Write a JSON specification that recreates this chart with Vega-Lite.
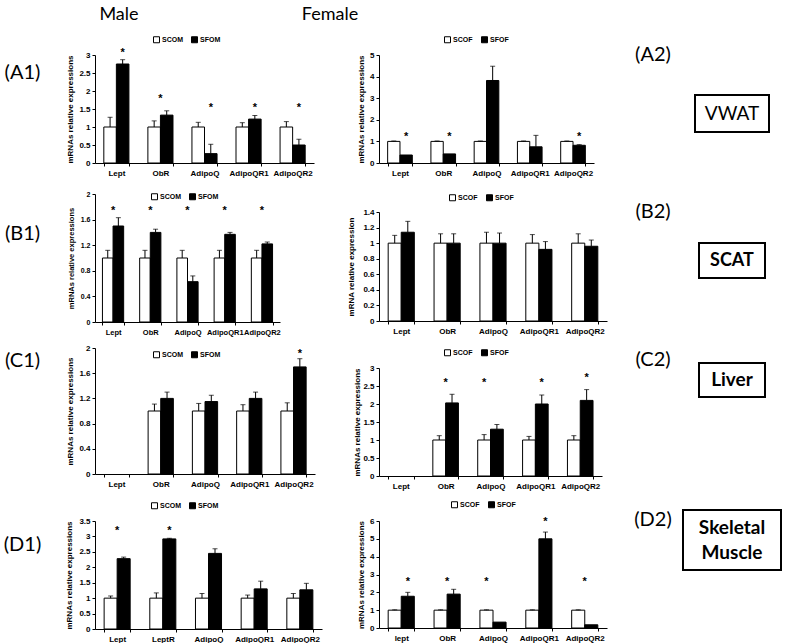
{
  "$schema": "https://vega.github.io/schema/vega-lite/v6.json",
  "padding": 0,
  "background": "white",
  "spacing": 0,
  "resolve": {"scale": {"fill": "independent", "xOffset": "independent"}, "legend": {"fill": "independent"}},
  "vconcat": [
    {
      "hconcat": [
        {"width": 238, "height": 30, "data": {"values": [{"label": "Male"}]}, "mark": {"type": "text", "font": "Lato", "fontSize": 18}, "encoding": {"text": {"field": "label"}}},
        {"width": 184, "height": 30, "data": {"values": [{"label": "Female"}]}, "mark": {"type": "text", "font": "Lato", "fontSize": 18}, "encoding": {"text": {"field": "label"}}}
      ],
      "spacing": 0
    },
    {
      "spacing": 20,
      "resolve": {"scale": {"fill": "independent", "xOffset": "independent"}, "legend": {"fill": "independent"}},
      "hconcat": [
        {
          "vconcat": [
            {"width": 45, "height": 86, "data": {"values": [{"label": "(A1)"}]}, "mark": {"type": "text", "font": "Lato", "fontSize": 20}, "encoding": {"text": {"field": "label"}}},
            {"width": 45, "height": 236, "data": {"values": [{"label": "(B1)"}]}, "mark": {"type": "text", "font": "Lato", "fontSize": 20}, "encoding": {"text": {"field": "label"}}},
            {"width": 45, "height": 18, "data": {"values": [{"label": "(C1)"}]}, "mark": {"type": "text", "font": "Lato", "fontSize": 20}, "encoding": {"text": {"field": "label"}}},
            {"width": 45, "height": 160, "data": {"values": [{"label": ""}]}, "mark": {"type": "text"}, "encoding": {"text": {"field": "label"}}},
            {"width": 45, "height": 30, "data": {"values": [{"label": "(D1)"}]}, "mark": {"type": "text", "font": "Lato", "fontSize": 20}, "encoding": {"text": {"field": "label"}}}
          ],
          "spacing": 0,
          "bounds": "flush"
        },
        {
          "vconcat": [
            {"width": 232, "height": 25, "data": {"values": [{"label": ""}]}, "mark": {"type": "text"}, "encoding": {"text": {"field": "label"}}},
            {
              "width": 219, "height": 108,
              "data": {"values": [
                {"gene": "Lept", "series": "SCOM", "value": 1, "err": 1.27},
                {"gene": "Lept", "series": "SFOM", "value": 2.75, "err": 2.87, "star": 3.13, "starPos": "SFOM"},
                {"gene": "ObR", "series": "SCOM", "value": 1, "err": 1.17},
                {"gene": "ObR", "series": "SFOM", "value": 1.33, "err": 1.45, "star": 1.85, "starPos": "mid"},
                {"gene": "AdipoQ", "series": "SCOM", "value": 1, "err": 1.13},
                {"gene": "AdipoQ", "series": "SFOM", "value": 0.26, "err": 0.52, "star": 1.62, "starPos": "SFOM"},
                {"gene": "AdipoQR1", "series": "SCOM", "value": 1, "err": 1.12},
                {"gene": "AdipoQR1", "series": "SFOM", "value": 1.22, "err": 1.32, "star": 1.62, "starPos": "SFOM"},
                {"gene": "AdipoQR2", "series": "SCOM", "value": 1, "err": 1.15},
                {"gene": "AdipoQR2", "series": "SFOM", "value": 0.5, "err": 0.66, "star": 1.62, "starPos": "SFOM"}
              ]},
              "encoding": {"x": {"field": "gene", "type": "nominal", "sort": null, "scale": {"domain": ["Lept", "ObR", "AdipoQ", "AdipoQR1", "AdipoQR2"], "paddingInner": 0.43, "paddingOuter": 0.2}, "axis": {"title": null, "labelAngle": 0, "tickBand": "extent", "labelPadding": 3}}},
              "layer": [
                {"mark": {"type": "bar", "stroke": "black", "strokeWidth": 1},
                 "encoding": {
                   "xOffset": {"field": "series", "type": "nominal", "scale": {"domain": ["SCOM", "SFOM"]}},
                   "y": {"field": "value", "type": "quantitative", "title": "mRNAs relative expressions", "scale": {"domain": [0, 3], "nice": false}, "axis": {"values": [0, 0.5, 1, 1.5, 2, 2.5, 3], "format": "~g", "titlePadding": 4}},
                   "fill": {"field": "series", "type": "nominal", "scale": {"domain": ["SCOM", "SFOM"], "range": ["white", "black"]}, "legend": {"title": null, "orient": "none", "direction": "horizontal", "legendX": 58, "legendY": -19}}}},
                {"transform": [{"filter": "datum.err != null"}], "mark": {"type": "rule", "color": "black", "strokeWidth": 1},
                 "encoding": {"xOffset": {"field": "series", "type": "nominal"}, "y": {"field": "value", "type": "quantitative", "title": "mRNAs relative expressions", "scale": {"domain": [0, 3], "nice": false}, "axis": {"values": [0, 0.5, 1, 1.5, 2, 2.5, 3], "format": "~g", "titlePadding": 4}}, "y2": {"field": "err"}}},
                {"transform": [{"filter": "datum.err != null"}], "mark": {"type": "tick", "color": "black", "thickness": 1, "size": 5},
                 "encoding": {"xOffset": {"field": "series", "type": "nominal"}, "y": {"field": "err", "type": "quantitative", "title": "mRNAs relative expressions", "scale": {"domain": [0, 3], "nice": false}, "axis": {"values": [0, 0.5, 1, 1.5, 2, 2.5, 3], "format": "~g", "titlePadding": 4}}}},
                {"transform": [{"filter": "datum.starPos == 'mid'"}], "mark": {"type": "text", "text": "*", "fontSize": 11, "fontWeight": "bold", "dy": 3},
                 "encoding": {"y": {"field": "star", "type": "quantitative", "title": "mRNAs relative expressions", "scale": {"domain": [0, 3], "nice": false}, "axis": {"values": [0, 0.5, 1, 1.5, 2, 2.5, 3], "format": "~g", "titlePadding": 4}}}},
                {"transform": [{"filter": "datum.star != null && datum.starPos != 'mid'"}], "mark": {"type": "text", "text": "*", "fontSize": 11, "fontWeight": "bold", "dy": 3},
                 "encoding": {"xOffset": {"field": "starPos", "type": "nominal"}, "y": {"field": "star", "type": "quantitative", "title": "mRNAs relative expressions", "scale": {"domain": [0, 3], "nice": false}, "axis": {"values": [0, 0.5, 1, 1.5, 2, 2.5, 3], "format": "~g", "titlePadding": 4}}}}
              ]
            },
            {"width": 232, "height": 31, "data": {"values": [{"label": ""}]}, "mark": {"type": "text"}, "encoding": {"text": {"field": "label"}}},
            {
              "width": 185, "height": 128,
              "data": {"values": [
                {"gene": "Lept", "series": "SCOM", "value": 1, "err": 1.12},
                {"gene": "Lept", "series": "SFOM", "value": 1.5, "err": 1.63, "star": 1.78, "starPos": "mid"},
                {"gene": "ObR", "series": "SCOM", "value": 1, "err": 1.12},
                {"gene": "ObR", "series": "SFOM", "value": 1.4, "err": 1.45, "star": 1.78, "starPos": "mid"},
                {"gene": "AdipoQ", "series": "SCOM", "value": 1, "err": 1.12},
                {"gene": "AdipoQ", "series": "SFOM", "value": 0.63, "err": 0.72, "star": 1.78, "starPos": "mid"},
                {"gene": "AdipoQR1", "series": "SCOM", "value": 1, "err": 1.12},
                {"gene": "AdipoQR1", "series": "SFOM", "value": 1.37, "err": 1.4, "star": 1.78, "starPos": "mid"},
                {"gene": "AdipoQR2", "series": "SCOM", "value": 1, "err": 1.12},
                {"gene": "AdipoQR2", "series": "SFOM", "value": 1.22, "err": 1.25, "star": 1.78, "starPos": "mid"}
              ]},
              "encoding": {"x": {"field": "gene", "type": "nominal", "sort": null, "scale": {"domain": ["Lept", "ObR", "AdipoQ", "AdipoQR1", "AdipoQR2"], "paddingInner": 0.43, "paddingOuter": 0.2}, "axis": {"title": null, "labelAngle": 0, "tickBand": "extent", "labelPadding": 3, "labelFontSize": 7.5}}},
              "layer": [
                {"mark": {"type": "bar", "stroke": "black", "strokeWidth": 1},
                 "encoding": {
                   "xOffset": {"field": "series", "type": "nominal", "scale": {"domain": ["SCOM", "SFOM"]}},
                   "y": {"field": "value", "type": "quantitative", "title": "mRNAs relative expressions", "scale": {"domain": [0, 2], "nice": false}, "axis": {"values": [0, 0.4, 0.8, 1.2, 1.6, 2], "format": "~g", "titlePadding": 5, "labelFontSize": 7, "titleFontSize": 7.5}},
                   "fill": {"field": "series", "type": "nominal", "scale": {"domain": ["SCOM", "SFOM"], "range": ["white", "black"]}, "legend": {"title": null, "orient": "none", "direction": "horizontal", "legendX": 56, "legendY": -1}}}},
                {"transform": [{"filter": "datum.err != null"}], "mark": {"type": "rule", "color": "black", "strokeWidth": 1},
                 "encoding": {"xOffset": {"field": "series", "type": "nominal"}, "y": {"field": "value", "type": "quantitative", "title": "mRNAs relative expressions", "scale": {"domain": [0, 2], "nice": false}, "axis": {"values": [0, 0.4, 0.8, 1.2, 1.6, 2], "format": "~g", "titlePadding": 5, "labelFontSize": 7, "titleFontSize": 7.5}}, "y2": {"field": "err"}}},
                {"transform": [{"filter": "datum.err != null"}], "mark": {"type": "tick", "color": "black", "thickness": 1, "size": 5},
                 "encoding": {"xOffset": {"field": "series", "type": "nominal"}, "y": {"field": "err", "type": "quantitative", "title": "mRNAs relative expressions", "scale": {"domain": [0, 2], "nice": false}, "axis": {"values": [0, 0.4, 0.8, 1.2, 1.6, 2], "format": "~g", "titlePadding": 5, "labelFontSize": 7, "titleFontSize": 7.5}}}},
                {"transform": [{"filter": "datum.starPos == 'mid'"}], "mark": {"type": "text", "text": "*", "fontSize": 11, "fontWeight": "bold", "dy": 3},
                 "encoding": {"y": {"field": "star", "type": "quantitative", "title": "mRNAs relative expressions", "scale": {"domain": [0, 2], "nice": false}, "axis": {"values": [0, 0.4, 0.8, 1.2, 1.6, 2], "format": "~g", "titlePadding": 5, "labelFontSize": 7, "titleFontSize": 7.5}}}}
              ]
            },
            {"width": 232, "height": 26, "data": {"values": [{"label": ""}]}, "mark": {"type": "text"}, "encoding": {"text": {"field": "label"}}},
            {
              "width": 220, "height": 126,
              "data": {"values": [
                {"gene": "ObR", "series": "SCOM", "value": 1, "err": 1.11},
                {"gene": "ObR", "series": "SFOM", "value": 1.2, "err": 1.3},
                {"gene": "AdipoQ", "series": "SCOM", "value": 1, "err": 1.12},
                {"gene": "AdipoQ", "series": "SFOM", "value": 1.15, "err": 1.25},
                {"gene": "AdipoQR1", "series": "SCOM", "value": 1, "err": 1.1},
                {"gene": "AdipoQR1", "series": "SFOM", "value": 1.2, "err": 1.3},
                {"gene": "AdipoQR2", "series": "SCOM", "value": 1, "err": 1.13},
                {"gene": "AdipoQR2", "series": "SFOM", "value": 1.7, "err": 1.83, "star": 1.95, "starPos": "SFOM"}
              ]},
              "encoding": {"x": {"field": "gene", "type": "nominal", "sort": null, "scale": {"domain": ["Lept", "ObR", "AdipoQ", "AdipoQR1", "AdipoQR2"], "paddingInner": 0.43, "paddingOuter": 0.2}, "axis": {"title": null, "labelAngle": 0, "tickBand": "extent", "labelPadding": 3}}},
              "layer": [
                {"mark": {"type": "bar", "stroke": "black", "strokeWidth": 1},
                 "encoding": {
                   "xOffset": {"field": "series", "type": "nominal", "scale": {"domain": ["SCOM", "SFOM"]}},
                   "y": {"field": "value", "type": "quantitative", "title": "mRNAs relative expressions", "scale": {"domain": [0, 2], "nice": false}, "axis": {"values": [0, 0.4, 0.8, 1.2, 1.6, 2], "format": "~g", "titlePadding": 4}},
                   "fill": {"field": "series", "type": "nominal", "scale": {"domain": ["SCOM", "SFOM"], "range": ["white", "black"]}, "legend": {"title": null, "orient": "none", "direction": "horizontal", "legendX": 58, "legendY": 3}}}},
                {"transform": [{"filter": "datum.err != null"}], "mark": {"type": "rule", "color": "black", "strokeWidth": 1},
                 "encoding": {"xOffset": {"field": "series", "type": "nominal"}, "y": {"field": "value", "type": "quantitative", "title": "mRNAs relative expressions", "scale": {"domain": [0, 2], "nice": false}, "axis": {"values": [0, 0.4, 0.8, 1.2, 1.6, 2], "format": "~g", "titlePadding": 4}}, "y2": {"field": "err"}}},
                {"transform": [{"filter": "datum.err != null"}], "mark": {"type": "tick", "color": "black", "thickness": 1, "size": 5},
                 "encoding": {"xOffset": {"field": "series", "type": "nominal"}, "y": {"field": "err", "type": "quantitative", "title": "mRNAs relative expressions", "scale": {"domain": [0, 2], "nice": false}, "axis": {"values": [0, 0.4, 0.8, 1.2, 1.6, 2], "format": "~g", "titlePadding": 4}}}},
                {"transform": [{"filter": "datum.star != null && datum.starPos != 'mid'"}], "mark": {"type": "text", "text": "*", "fontSize": 11, "fontWeight": "bold", "dy": 3},
                 "encoding": {"xOffset": {"field": "starPos", "type": "nominal"}, "y": {"field": "star", "type": "quantitative", "title": "mRNAs relative expressions", "scale": {"domain": [0, 2], "nice": false}, "axis": {"values": [0, 0.4, 0.8, 1.2, 1.6, 2], "format": "~g", "titlePadding": 4}}}}
              ]
            },
            {"width": 232, "height": 47, "data": {"values": [{"label": ""}]}, "mark": {"type": "text"}, "encoding": {"text": {"field": "label"}}},
            {
              "width": 227, "height": 108,
              "data": {"values": [
                {"gene": "Lept", "series": "SCOM", "value": 1, "err": 1.07},
                {"gene": "Lept", "series": "SFOM", "value": 2.28, "err": 2.33, "star": 3.28, "starPos": "mid"},
                {"gene": "LeptR", "series": "SCOM", "value": 1, "err": 1.17},
                {"gene": "LeptR", "series": "SFOM", "value": 2.92, "err": 2.94, "star": 3.28, "starPos": "SFOM"},
                {"gene": "AdipoQ", "series": "SCOM", "value": 1, "err": 1.15},
                {"gene": "AdipoQ", "series": "SFOM", "value": 2.45, "err": 2.6},
                {"gene": "AdipoQR1", "series": "SCOM", "value": 1, "err": 1.1},
                {"gene": "AdipoQR1", "series": "SFOM", "value": 1.3, "err": 1.55},
                {"gene": "AdipoQR2", "series": "SCOM", "value": 1, "err": 1.15},
                {"gene": "AdipoQR2", "series": "SFOM", "value": 1.27, "err": 1.48}
              ]},
              "encoding": {"x": {"field": "gene", "type": "nominal", "sort": null, "scale": {"domain": ["Lept", "LeptR", "AdipoQ", "AdipoQR1", "AdipoQR2"], "paddingInner": 0.43, "paddingOuter": 0.2}, "axis": {"title": null, "labelAngle": 0, "tickBand": "extent", "labelPadding": 3}}},
              "layer": [
                {"mark": {"type": "bar", "stroke": "black", "strokeWidth": 1},
                 "encoding": {
                   "xOffset": {"field": "series", "type": "nominal", "scale": {"domain": ["SCOM", "SFOM"]}},
                   "y": {"field": "value", "type": "quantitative", "title": "mRNAs relative expressions", "scale": {"domain": [0, 3.5], "nice": false}, "axis": {"values": [0, 0.5, 1, 1.5, 2, 2.5, 3, 3.5], "format": "~g", "titlePadding": 5}},
                   "fill": {"field": "series", "type": "nominal", "scale": {"domain": ["SCOM", "SFOM"], "range": ["white", "black"]}, "legend": {"title": null, "orient": "none", "direction": "horizontal", "legendX": 56, "legendY": -19}}}},
                {"transform": [{"filter": "datum.err != null"}], "mark": {"type": "rule", "color": "black", "strokeWidth": 1},
                 "encoding": {"xOffset": {"field": "series", "type": "nominal"}, "y": {"field": "value", "type": "quantitative", "title": "mRNAs relative expressions", "scale": {"domain": [0, 3.5], "nice": false}, "axis": {"values": [0, 0.5, 1, 1.5, 2, 2.5, 3, 3.5], "format": "~g", "titlePadding": 5}}, "y2": {"field": "err"}}},
                {"transform": [{"filter": "datum.err != null"}], "mark": {"type": "tick", "color": "black", "thickness": 1, "size": 5},
                 "encoding": {"xOffset": {"field": "series", "type": "nominal"}, "y": {"field": "err", "type": "quantitative", "title": "mRNAs relative expressions", "scale": {"domain": [0, 3.5], "nice": false}, "axis": {"values": [0, 0.5, 1, 1.5, 2, 2.5, 3, 3.5], "format": "~g", "titlePadding": 5}}}},
                {"transform": [{"filter": "datum.starPos == 'mid'"}], "mark": {"type": "text", "text": "*", "fontSize": 11, "fontWeight": "bold", "dy": 3},
                 "encoding": {"y": {"field": "star", "type": "quantitative", "title": "mRNAs relative expressions", "scale": {"domain": [0, 3.5], "nice": false}, "axis": {"values": [0, 0.5, 1, 1.5, 2, 2.5, 3, 3.5], "format": "~g", "titlePadding": 5}}}},
                {"transform": [{"filter": "datum.star != null && datum.starPos != 'mid'"}], "mark": {"type": "text", "text": "*", "fontSize": 11, "fontWeight": "bold", "dy": 3},
                 "encoding": {"xOffset": {"field": "starPos", "type": "nominal"}, "y": {"field": "star", "type": "quantitative", "title": "mRNAs relative expressions", "scale": {"domain": [0, 3.5], "nice": false}, "axis": {"values": [0, 0.5, 1, 1.5, 2, 2.5, 3, 3.5], "format": "~g", "titlePadding": 5}}}}
              ]
            }
          ],
          "spacing": 0,
          "bounds": "flush",
          "resolve": {"scale": {"fill": "independent", "xOffset": "independent"}, "legend": {"fill": "independent"}}
        },
        {
          "vconcat": [
            {"width": 228, "height": 25, "data": {"values": [{"label": ""}]}, "mark": {"type": "text"}, "encoding": {"text": {"field": "label"}}},
            {
              "width": 215, "height": 108,
              "data": {"values": [
                {"gene": "Lept", "series": "SCOF", "value": 1, "err": 1.02},
                {"gene": "Lept", "series": "SFOF", "value": 0.37, "star": 1.32, "starPos": "SFOF"},
                {"gene": "ObR", "series": "SCOF", "value": 1, "err": 1.02},
                {"gene": "ObR", "series": "SFOF", "value": 0.42, "star": 1.32, "starPos": "SFOF"},
                {"gene": "AdipoQ", "series": "SCOF", "value": 1, "err": 1.02},
                {"gene": "AdipoQ", "series": "SFOF", "value": 3.82, "err": 4.48},
                {"gene": "AdipoQR1", "series": "SCOF", "value": 1, "err": 1.02},
                {"gene": "AdipoQR1", "series": "SFOF", "value": 0.75, "err": 1.28},
                {"gene": "AdipoQR2", "series": "SCOF", "value": 1, "err": 1.02},
                {"gene": "AdipoQR2", "series": "SFOF", "value": 0.82, "err": 0.85, "star": 1.32, "starPos": "SFOF"}
              ]},
              "encoding": {"x": {"field": "gene", "type": "nominal", "sort": null, "scale": {"domain": ["Lept", "ObR", "AdipoQ", "AdipoQR1", "AdipoQR2"], "paddingInner": 0.43, "paddingOuter": 0.2}, "axis": {"title": null, "labelAngle": 0, "tickBand": "extent", "labelPadding": 3}}},
              "layer": [
                {"mark": {"type": "bar", "stroke": "black", "strokeWidth": 1},
                 "encoding": {
                   "xOffset": {"field": "series", "type": "nominal", "scale": {"domain": ["SCOF", "SFOF"]}},
                   "y": {"field": "value", "type": "quantitative", "title": "mRNAs relative expressions", "scale": {"domain": [0, 5], "nice": false}, "axis": {"values": [0, 1, 2, 3, 4, 5], "format": "~g", "titlePadding": 4.5}},
                   "fill": {"field": "series", "type": "nominal", "scale": {"domain": ["SCOF", "SFOF"], "range": ["white", "black"]}, "legend": {"title": null, "orient": "none", "direction": "horizontal", "legendX": 65, "legendY": -19}}}},
                {"transform": [{"filter": "datum.err != null"}], "mark": {"type": "rule", "color": "black", "strokeWidth": 1},
                 "encoding": {"xOffset": {"field": "series", "type": "nominal"}, "y": {"field": "value", "type": "quantitative", "title": "mRNAs relative expressions", "scale": {"domain": [0, 5], "nice": false}, "axis": {"values": [0, 1, 2, 3, 4, 5], "format": "~g", "titlePadding": 4.5}}, "y2": {"field": "err"}}},
                {"transform": [{"filter": "datum.err != null"}], "mark": {"type": "tick", "color": "black", "thickness": 1, "size": 5},
                 "encoding": {"xOffset": {"field": "series", "type": "nominal"}, "y": {"field": "err", "type": "quantitative", "title": "mRNAs relative expressions", "scale": {"domain": [0, 5], "nice": false}, "axis": {"values": [0, 1, 2, 3, 4, 5], "format": "~g", "titlePadding": 4.5}}}},
                {"transform": [{"filter": "datum.star != null && datum.starPos != 'mid'"}], "mark": {"type": "text", "text": "*", "fontSize": 11, "fontWeight": "bold", "dy": 3},
                 "encoding": {"xOffset": {"field": "starPos", "type": "nominal"}, "y": {"field": "star", "type": "quantitative", "title": "mRNAs relative expressions", "scale": {"domain": [0, 5], "nice": false}, "axis": {"values": [0, 1, 2, 3, 4, 5], "format": "~g", "titlePadding": 4.5}}}}
              ]
            },
            {"width": 228, "height": 49, "data": {"values": [{"label": ""}]}, "mark": {"type": "text"}, "encoding": {"text": {"field": "label"}}},
            {
              "width": 228, "height": 109,
              "data": {"values": [
                {"gene": "Lept", "series": "SCOF", "value": 1, "err": 1.1},
                {"gene": "Lept", "series": "SFOF", "value": 1.14, "err": 1.28},
                {"gene": "ObR", "series": "SCOF", "value": 1, "err": 1.12},
                {"gene": "ObR", "series": "SFOF", "value": 1, "err": 1.12},
                {"gene": "AdipoQ", "series": "SCOF", "value": 1, "err": 1.14},
                {"gene": "AdipoQ", "series": "SFOF", "value": 1, "err": 1.13},
                {"gene": "AdipoQR1", "series": "SCOF", "value": 1, "err": 1.11},
                {"gene": "AdipoQR1", "series": "SFOF", "value": 0.92, "err": 1.02},
                {"gene": "AdipoQR2", "series": "SCOF", "value": 1, "err": 1.12},
                {"gene": "AdipoQR2", "series": "SFOF", "value": 0.96, "err": 1.04}
              ]},
              "encoding": {"x": {"field": "gene", "type": "nominal", "sort": null, "scale": {"domain": ["Lept", "ObR", "AdipoQ", "AdipoQR1", "AdipoQR2"], "paddingInner": 0.43, "paddingOuter": 0.2}, "axis": {"title": null, "labelAngle": 0, "tickBand": "extent", "labelPadding": 3}}},
              "layer": [
                {"mark": {"type": "bar", "stroke": "black", "strokeWidth": 1},
                 "encoding": {
                   "xOffset": {"field": "series", "type": "nominal", "scale": {"domain": ["SCOF", "SFOF"]}},
                   "y": {"field": "value", "type": "quantitative", "title": "mRNA relative expression", "scale": {"domain": [0, 1.4], "nice": false}, "axis": {"values": [0, 0.2, 0.4, 0.6, 0.8, 1, 1.2, 1.4], "format": "~g", "titlePadding": 7}},
                   "fill": {"field": "series", "type": "nominal", "scale": {"domain": ["SCOF", "SFOF"], "range": ["white", "black"]}, "legend": {"title": null, "orient": "none", "direction": "horizontal", "legendX": 70, "legendY": -18}}}},
                {"transform": [{"filter": "datum.err != null"}], "mark": {"type": "rule", "color": "black", "strokeWidth": 1},
                 "encoding": {"xOffset": {"field": "series", "type": "nominal"}, "y": {"field": "value", "type": "quantitative", "title": "mRNA relative expression", "scale": {"domain": [0, 1.4], "nice": false}, "axis": {"values": [0, 0.2, 0.4, 0.6, 0.8, 1, 1.2, 1.4], "format": "~g", "titlePadding": 7}}, "y2": {"field": "err"}}},
                {"transform": [{"filter": "datum.err != null"}], "mark": {"type": "tick", "color": "black", "thickness": 1, "size": 5},
                 "encoding": {"xOffset": {"field": "series", "type": "nominal"}, "y": {"field": "err", "type": "quantitative", "title": "mRNA relative expression", "scale": {"domain": [0, 1.4], "nice": false}, "axis": {"values": [0, 0.2, 0.4, 0.6, 0.8, 1, 1.2, 1.4], "format": "~g", "titlePadding": 7}}}}
              ]
            },
            {"width": 228, "height": 47, "data": {"values": [{"label": ""}]}, "mark": {"type": "text"}, "encoding": {"text": {"field": "label"}}},
            {
              "width": 223, "height": 108,
              "data": {"values": [
                {"gene": "ObR", "series": "SCOF", "value": 1, "err": 1.12},
                {"gene": "ObR", "series": "SFOF", "value": 2.03, "err": 2.27, "star": 2.68, "starPos": "mid"},
                {"gene": "AdipoQ", "series": "SCOF", "value": 1, "err": 1.15},
                {"gene": "AdipoQ", "series": "SFOF", "value": 1.3, "err": 1.43, "star": 2.68, "starPos": "SCOF"},
                {"gene": "AdipoQR1", "series": "SCOF", "value": 1, "err": 1.1},
                {"gene": "AdipoQR1", "series": "SFOF", "value": 2, "err": 2.25, "star": 2.68, "starPos": "SFOF"},
                {"gene": "AdipoQR2", "series": "SCOF", "value": 1, "err": 1.12},
                {"gene": "AdipoQR2", "series": "SFOF", "value": 2.1, "err": 2.4, "star": 2.8, "starPos": "SFOF"}
              ]},
              "encoding": {"x": {"field": "gene", "type": "nominal", "sort": null, "scale": {"domain": ["Lept", "ObR", "AdipoQ", "AdipoQR1", "AdipoQR2"], "paddingInner": 0.43, "paddingOuter": 0.2}, "axis": {"title": null, "labelAngle": 0, "tickBand": "extent", "labelPadding": 3}}},
              "layer": [
                {"mark": {"type": "bar", "stroke": "black", "strokeWidth": 1},
                 "encoding": {
                   "xOffset": {"field": "series", "type": "nominal", "scale": {"domain": ["SCOF", "SFOF"]}},
                   "y": {"field": "value", "type": "quantitative", "title": "mRNAs relative expressions", "scale": {"domain": [0, 3], "nice": false}, "axis": {"values": [0, 0.5, 1, 1.5, 2, 2.5, 3], "format": "~g", "titlePadding": 1}},
                   "fill": {"field": "series", "type": "nominal", "scale": {"domain": ["SCOF", "SFOF"], "range": ["white", "black"]}, "legend": {"title": null, "orient": "none", "direction": "horizontal", "legendX": 65, "legendY": -19}}}},
                {"transform": [{"filter": "datum.err != null"}], "mark": {"type": "rule", "color": "black", "strokeWidth": 1},
                 "encoding": {"xOffset": {"field": "series", "type": "nominal"}, "y": {"field": "value", "type": "quantitative", "title": "mRNAs relative expressions", "scale": {"domain": [0, 3], "nice": false}, "axis": {"values": [0, 0.5, 1, 1.5, 2, 2.5, 3], "format": "~g", "titlePadding": 1}}, "y2": {"field": "err"}}},
                {"transform": [{"filter": "datum.err != null"}], "mark": {"type": "tick", "color": "black", "thickness": 1, "size": 5},
                 "encoding": {"xOffset": {"field": "series", "type": "nominal"}, "y": {"field": "err", "type": "quantitative", "title": "mRNAs relative expressions", "scale": {"domain": [0, 3], "nice": false}, "axis": {"values": [0, 0.5, 1, 1.5, 2, 2.5, 3], "format": "~g", "titlePadding": 1}}}},
                {"transform": [{"filter": "datum.starPos == 'mid'"}], "mark": {"type": "text", "text": "*", "fontSize": 11, "fontWeight": "bold", "dy": 3},
                 "encoding": {"y": {"field": "star", "type": "quantitative", "title": "mRNAs relative expressions", "scale": {"domain": [0, 3], "nice": false}, "axis": {"values": [0, 0.5, 1, 1.5, 2, 2.5, 3], "format": "~g", "titlePadding": 1}}}},
                {"transform": [{"filter": "datum.star != null && datum.starPos != 'mid'"}], "mark": {"type": "text", "text": "*", "fontSize": 11, "fontWeight": "bold", "dy": 3},
                 "encoding": {"xOffset": {"field": "starPos", "type": "nominal"}, "y": {"field": "star", "type": "quantitative", "title": "mRNAs relative expressions", "scale": {"domain": [0, 3], "nice": false}, "axis": {"values": [0, 0.5, 1, 1.5, 2, 2.5, 3], "format": "~g", "titlePadding": 1}}}}
              ]
            },
            {"width": 228, "height": 45, "data": {"values": [{"label": ""}]}, "mark": {"type": "text"}, "encoding": {"text": {"field": "label"}}},
            {
              "width": 228, "height": 107,
              "data": {"values": [
                {"gene": "lept", "series": "SCOF", "value": 1, "err": 1.02},
                {"gene": "lept", "series": "SFOF", "value": 1.78, "err": 2.0, "star": 2.74, "starPos": "SFOF"},
                {"gene": "ObR", "series": "SCOF", "value": 1, "err": 1.02},
                {"gene": "ObR", "series": "SFOF", "value": 1.9, "err": 2.17, "star": 2.74, "starPos": "mid"},
                {"gene": "AdipoQ", "series": "SCOF", "value": 1, "err": 1.02},
                {"gene": "AdipoQ", "series": "SFOF", "value": 0.33, "star": 2.74, "starPos": "SCOF"},
                {"gene": "AdipoQR1", "series": "SCOF", "value": 1, "err": 1.02},
                {"gene": "AdipoQR1", "series": "SFOF", "value": 5.0, "err": 5.38, "star": 6.1, "starPos": "SFOF"},
                {"gene": "AdipoQR2", "series": "SCOF", "value": 1, "err": 1.02},
                {"gene": "AdipoQR2", "series": "SFOF", "value": 0.18, "star": 2.74, "starPos": "mid"}
              ]},
              "encoding": {"x": {"field": "gene", "type": "nominal", "sort": null, "scale": {"domain": ["lept", "ObR", "AdipoQ", "AdipoQR1", "AdipoQR2"], "paddingInner": 0.43, "paddingOuter": 0.2}, "axis": {"title": null, "labelAngle": 0, "tickBand": "extent", "labelPadding": 3}}},
              "layer": [
                {"mark": {"type": "bar", "stroke": "black", "strokeWidth": 1},
                 "encoding": {
                   "xOffset": {"field": "series", "type": "nominal", "scale": {"domain": ["SCOF", "SFOF"]}},
                   "y": {"field": "value", "type": "quantitative", "title": "mRNAs relative expressions", "scale": {"domain": [0, 6], "nice": false}, "axis": {"values": [0, 1, 2, 3, 4, 5, 6], "format": "~g", "titlePadding": 4.5}},
                   "fill": {"field": "series", "type": "nominal", "scale": {"domain": ["SCOF", "SFOF"], "range": ["white", "black"]}, "legend": {"title": null, "orient": "none", "direction": "horizontal", "legendX": 72, "legendY": -20}}}},
                {"transform": [{"filter": "datum.err != null"}], "mark": {"type": "rule", "color": "black", "strokeWidth": 1},
                 "encoding": {"xOffset": {"field": "series", "type": "nominal"}, "y": {"field": "value", "type": "quantitative", "title": "mRNAs relative expressions", "scale": {"domain": [0, 6], "nice": false}, "axis": {"values": [0, 1, 2, 3, 4, 5, 6], "format": "~g", "titlePadding": 4.5}}, "y2": {"field": "err"}}},
                {"transform": [{"filter": "datum.err != null"}], "mark": {"type": "tick", "color": "black", "thickness": 1, "size": 5},
                 "encoding": {"xOffset": {"field": "series", "type": "nominal"}, "y": {"field": "err", "type": "quantitative", "title": "mRNAs relative expressions", "scale": {"domain": [0, 6], "nice": false}, "axis": {"values": [0, 1, 2, 3, 4, 5, 6], "format": "~g", "titlePadding": 4.5}}}},
                {"transform": [{"filter": "datum.starPos == 'mid'"}], "mark": {"type": "text", "text": "*", "fontSize": 11, "fontWeight": "bold", "dy": 3},
                 "encoding": {"y": {"field": "star", "type": "quantitative", "title": "mRNAs relative expressions", "scale": {"domain": [0, 6], "nice": false}, "axis": {"values": [0, 1, 2, 3, 4, 5, 6], "format": "~g", "titlePadding": 4.5}}}},
                {"transform": [{"filter": "datum.star != null && datum.starPos != 'mid'"}], "mark": {"type": "text", "text": "*", "fontSize": 11, "fontWeight": "bold", "dy": 3},
                 "encoding": {"xOffset": {"field": "starPos", "type": "nominal"}, "y": {"field": "star", "type": "quantitative", "title": "mRNAs relative expressions", "scale": {"domain": [0, 6], "nice": false}, "axis": {"values": [0, 1, 2, 3, 4, 5, 6], "format": "~g", "titlePadding": 4.5}}}}
              ]
            }
          ],
          "spacing": 0,
          "bounds": "flush",
          "resolve": {"scale": {"fill": "independent", "xOffset": "independent"}, "legend": {"fill": "independent"}}
        },
        {
          "hconcat": [
            {
              "vconcat": [
                {"width": 52, "height": 50, "data": {"values": [{"label": "(A2)"}]}, "mark": {"type": "text", "font": "Lato", "fontSize": 20}, "encoding": {"text": {"field": "label"}}},
                {"width": 52, "height": 264, "data": {"values": [{"label": "(B2)"}]}, "mark": {"type": "text", "font": "Lato", "fontSize": 20}, "encoding": {"text": {"field": "label"}}},
                {"width": 52, "height": 32, "data": {"values": [{"label": "(C2)"}]}, "mark": {"type": "text", "font": "Lato", "fontSize": 20}, "encoding": {"text": {"field": "label"}}},
                {"width": 52, "height": 129, "data": {"values": [{"label": ""}]}, "mark": {"type": "text"}, "encoding": {"text": {"field": "label"}}},
                {"width": 52, "height": 30, "data": {"values": [{"label": "(D2)"}]}, "mark": {"type": "text", "font": "Lato", "fontSize": 20}, "encoding": {"text": {"field": "label"}}}
              ],
              "spacing": 0,
              "bounds": "flush"
            },
            {
              "vconcat": [
                {"width": 10, "height": 65, "data": {"values": [{"label": ""}]}, "mark": {"type": "text"}, "encoding": {"text": {"field": "label"}}},
                {"width": 74, "height": 37, "view": {"stroke": "black", "strokeWidth": 2}, "data": {"values": [{"label": "VWAT"}]}, "mark": {"type": "text", "font": "Lato", "fontSize": 19}, "encoding": {"text": {"field": "label"}}},
                {"width": 10, "height": 111, "data": {"values": [{"label": ""}]}, "mark": {"type": "text"}, "encoding": {"text": {"field": "label"}}},
                {"width": 66, "height": 35, "view": {"stroke": "black", "strokeWidth": 2}, "data": {"values": [{"label": "SCAT"}]}, "mark": {"type": "text", "font": "Lato", "fontSize": 18, "fontWeight": "bold"}, "encoding": {"text": {"field": "label"}}},
                {"width": 10, "height": 85, "data": {"values": [{"label": ""}]}, "mark": {"type": "text"}, "encoding": {"text": {"field": "label"}}},
                {"width": 66, "height": 34, "view": {"stroke": "black", "strokeWidth": 2}, "data": {"values": [{"label": "Liver"}]}, "mark": {"type": "text", "font": "Lato", "fontSize": 19, "fontWeight": "bold"}, "encoding": {"text": {"field": "label"}}},
                {"width": 10, "height": 113, "data": {"values": [{"label": ""}]}, "mark": {"type": "text"}, "encoding": {"text": {"field": "label"}}},
                {"width": 98, "height": 60, "view": {"stroke": "black", "strokeWidth": 2}, "data": {"values": [{"label": "Skeletal\nMuscle"}]}, "mark": {"type": "text", "font": "Lato", "fontSize": 19, "fontWeight": "bold", "lineBreak": "\n", "lineHeight": 25, "dy": -12}, "encoding": {"text": {"field": "label"}}}
              ],
              "spacing": 0,
              "bounds": "flush",
              "center": true
            }
          ],
          "spacing": 3
        }
      ]
    }
  ],
  "config": {
    "view": {"stroke": null},
    "font": "Liberation Sans",
    "axis": {"labelFont": "Liberation Sans", "labelFontWeight": "bold", "labelFontSize": 8, "labelColor": "black", "titleFont": "Liberation Sans", "titleFontWeight": "bold", "titleFontSize": 8, "titleColor": "black", "domainColor": "black", "tickColor": "black", "grid": false, "tickSize": 3, "labelPadding": 2, "labelOverlap": false, "labelBound": false},
    "legend": {"labelFont": "Liberation Sans", "labelFontWeight": "bold", "labelFontSize": 7, "labelColor": "black", "symbolType": "square", "symbolSize": 36, "symbolStrokeColor": "black", "symbolStrokeWidth": 1, "columnPadding": 6, "labelOffset": 2, "padding": 0},
    "text": {"color": "black", "font": "Liberation Sans"}
  }
}
